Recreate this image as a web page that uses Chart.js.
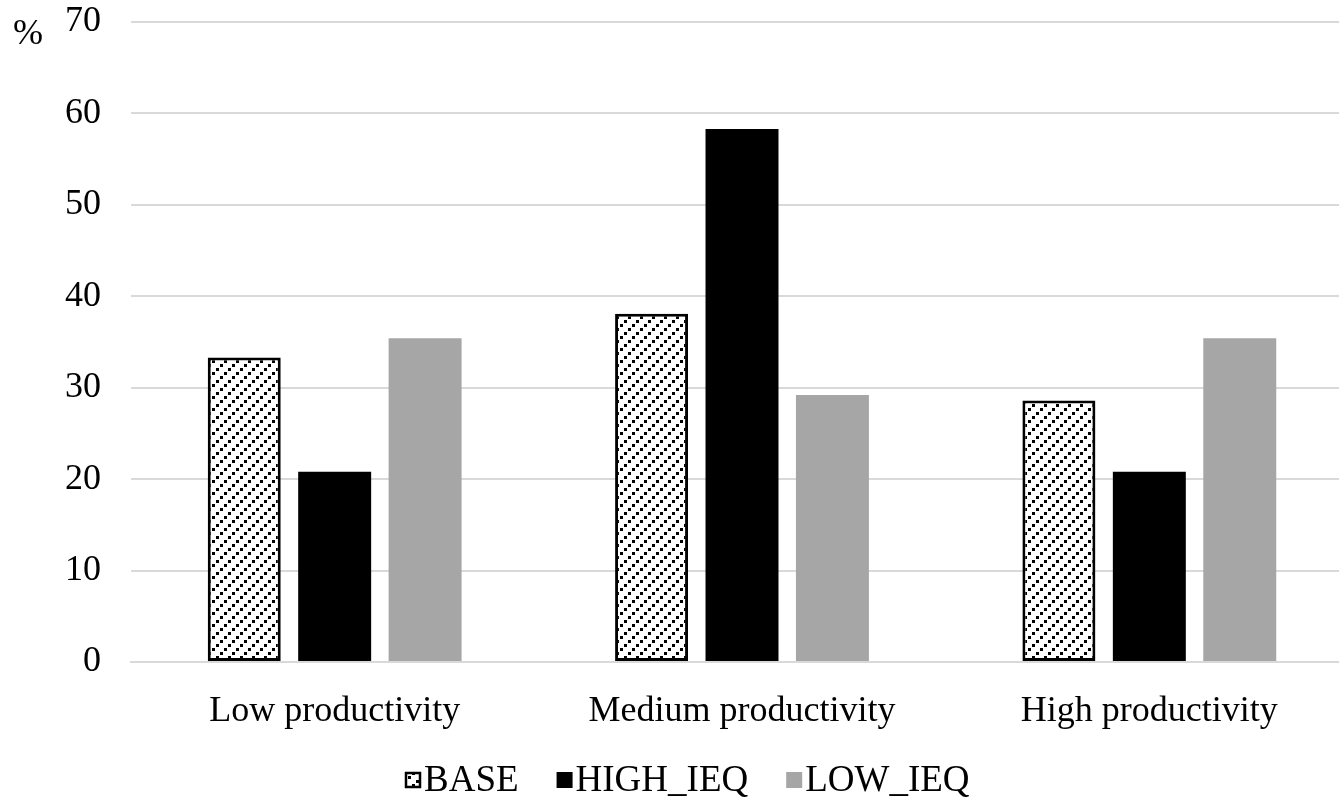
<!DOCTYPE html>
<html>
<head>
<meta charset="utf-8">
<script src="https://cdn.jsdelivr.net/npm/chart.js@4"></script>
<style>
  html, body { margin: 0; padding: 0; background: #fff; overflow: hidden; }
  .wrap { position: relative; width: 1380px; height: 799px; }
</style>
</head>
<body>
<div class="wrap"><canvas id="chart"></canvas></div>
<script>
const categories = ["Low productivity", "Medium productivity", "High productivity"];
const base = [33.3, 38.1, 28.6];
const highIeq = [20.8, 58.3, 20.8];
const lowIeq = [35.4, 29.2, 35.4];
const yTicks = [0, 10, 20, 30, 40, 50, 60, 70];

const FONT = "'Liberation Serif', 'Times New Roman', serif";

// diagonal dotted hatch like the Excel pattern fill
function makeHatch() {
  const c = document.createElement("canvas");
  c.width = 12;
  c.height = 12;
  const g = c.getContext("2d");
  g.fillStyle = "#fff";
  g.fillRect(0, 0, 12, 12);
  g.fillStyle = "#000";
  g.fillRect(8, 0, 3, 3);
  g.fillRect(4, 4, 3, 3);
  g.fillRect(0, 8, 3, 3);
  return c;
}
const hatch = document.createElement("canvas").getContext("2d").createPattern(makeHatch(), "repeat");

const legendItems = [
  { text: "BASE", fill: hatch, border: "#000" },
  { text: "HIGH_IEQ", fill: "#000", border: null },
  { text: "LOW_IEQ", fill: "#a6a6a6", border: null }
];

const extras = {
  id: "extras",
  afterDraw(chart) {
    const ctx = chart.ctx;
    ctx.save();
    ctx.font = "36px " + FONT;
    ctx.fillStyle = "#000";
    ctx.textBaseline = "middle";
    ctx.textAlign = "left";
    ctx.fillText("%", 13, 35);

    // legend
    ctx.font = "37px " + FONT;
    let x = 405;
    const y = 780;
    const box = 16;
    legendItems.forEach(function (it) {
      ctx.fillStyle = it.fill;
      ctx.fillRect(x, y - box / 2, box, box);
      if (it.border) {
        ctx.strokeStyle = it.border;
        ctx.lineWidth = 2.5;
        ctx.strokeRect(x + 1, y - box / 2 + 1, box - 2, box - 2);
      }
      ctx.fillStyle = "#000";
      ctx.fillText(it.text, x + box + 3, y + 1);
      x += box + 3 + ctx.measureText(it.text).width + 38;
    });
    ctx.restore();
  }
};

new Chart(document.getElementById("chart"), {
  type: "bar",
  data: {
    labels: categories,
    datasets: [
      {
        label: "BASE",
        data: base,
        backgroundColor: hatch,
        borderColor: "#000",
        borderWidth: 3,
        borderSkipped: false
      },
      {
        label: "HIGH_IEQ",
        data: highIeq,
        backgroundColor: "#000"
      },
      {
        label: "LOW_IEQ",
        data: lowIeq,
        backgroundColor: "#a6a6a6"
      }
    ]
  },
  options: {
    responsive: true,
    maintainAspectRatio: false,
    animation: false,
    events: [],
    layout: { padding: { top: 22, right: 27, bottom: 0, left: 0 } },
    datasets: {
      bar: { categoryPercentage: 0.666, barPercentage: 0.807 }
    },
    plugins: {
      legend: { display: false },
      tooltip: { enabled: false }
    },
    scales: {
      x: {
        grid: { display: false },
        border: { display: true, color: "#d9d9d9", width: 2 },
        ticks: {
          color: "#000",
          padding: 20,
          font: { family: FONT, size: 36 }
        },
        afterFit(scale) { scale.height = 137; }
      },
      y: {
        min: 0,
        max: 70,
        afterBuildTicks(scale) { scale.ticks = yTicks.map(v => ({ value: v })); },
        grid: { color: "#d9d9d9", lineWidth: 2, drawTicks: false },
        border: { display: false },
        ticks: {
          color: "#000",
          padding: 30,
          font: { family: FONT, size: 36 }
        },
        afterFit(scale) {
          scale.width = 131;
          scale.paddingTop = 0;
          scale.paddingBottom = 0;
        }
      }
    }
  },
  plugins: [extras]
});
</script>
</body>
</html>
